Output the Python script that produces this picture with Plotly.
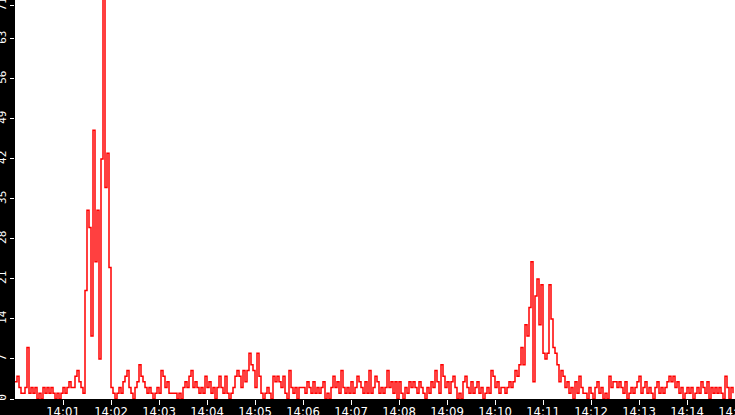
import pandas as pd
import plotly.graph_objects as go

# Samples every 2.5 s from 14:00:00 to 14:15:00
seg_1400 = [3, 4, 2, 1, 1, 2, 9, 1, 2, 1, 2, 0, 1, 0, 2, 1, 2, 1, 2, 1,
            0, 1, 0, 1, 2, 1, 2, 3, 2, 2, 4, 5, 3, 2, 1,
            19, 33, 30, 11, 47, 24, 33, 7, 42, 71, 37, 43, 23, 2,
            1, 0, 1, 2, 1, 3, 4, 5, 2, 1, 0, 2, 3, 6, 4, 3, 2, 1, 2, 1,
            0, 1, 2, 1, 5, 4, 2, 3, 1, 1, 1, 1, 0, 1, 0, 2, 3, 2, 4, 5, 2]
seg_1403 = [3, 2, 1, 2, 1, 4, 2, 3, 1, 2, 0, 2, 4, 2, 1, 4, 1, 0, 1, 2,
            4, 5, 4, 2, 5, 3, 5, 8, 6, 5, 2, 8, 4, 1, 0, 1, 2, 1, 0, 4,
            3, 4, 3, 2, 4, 1, 0, 5, 2, 1, 2, 0, 2, 2, 2, 1, 3, 2, 1, 3,
            1, 2, 1, 2, 3, 0, 1, 0, 2, 4, 2, 3, 1, 5, 2, 1, 2, 1, 3, 1,
            2, 4, 3, 2, 1, 3, 1, 5, 1, 2]
seg_1407 = [4, 3, 1, 2, 1, 2, 5, 2, 3, 1, 3, 0, 3, 1, 0, 2, 1, 3, 2, 3,
            2, 1, 3, 2, 1, 0, 2, 1, 3, 2, 5, 3, 1, 6, 4, 2, 3, 1, 3, 4,
            2, 0, 1, 0, 3, 4, 2, 1, 3, 1, 2, 3, 1, 2, 0, 1, 2, 1, 5, 4,
            2, 3, 1, 2, 2,
            1, 2, 3, 2, 3, 5, 4, 6, 9, 6, 13, 11, 16, 24, 3, 18, 21, 13, 20, 8,
            7, 8, 20, 14, 9]
seg_1411 = [8, 6, 3, 5, 4, 2, 3, 1, 2, 0, 3, 1, 4, 2, 1,
            1, 0, 2, 1, 0, 2, 3, 1, 2, 0, 1, 0, 4, 2, 3, 3, 2, 3, 2, 1,
            3, 0, 1, 2, 1, 2, 3, 4, 1, 2, 3, 1, 2, 1, 0, 2, 3, 1, 2, 1,
            2, 3, 4, 3, 4, 2, 3, 1, 2, 0, 1, 2, 1, 2, 0, 1, 2, 1, 3, 2,
            1, 3, 0, 2, 1, 2, 1, 2, 1, 0, 4, 2, 0, 2, 1]

values = seg_1400 + seg_1403 + seg_1407 + seg_1411
times = pd.date_range("2024-01-01 14:00:00", periods=len(values), freq="2500ms")

y_ticks = [0, 7, 14, 21, 28, 35, 42, 49, 56, 63, 68.8]
y_labels = ["0", "7", "14", "21", "28", "35", "42", "49", "56", "63", "71"]
x_ticks = pd.date_range("2024-01-01 14:01:00", "2024-01-01 14:15:00", freq="1min")

fig = go.Figure()

fig.add_trace(go.Scatter(
    x=times,
    y=values,
    mode="lines",
    line=dict(color="#ff0000", width=1.5, shape="hv"),
    showlegend=False
))

fig.update_layout(
    width=735,
    height=415,
    margin=dict(l=15, r=0, t=0, b=16),
    paper_bgcolor="black",
    plot_bgcolor="white",
    font=dict(family="Liberation Sans Narrow, DejaVu Sans Condensed", color="white", size=12),
    xaxis=dict(
        range=["2024-01-01 14:00:00", "2024-01-01 14:15:00"],
        tickvals=x_ticks,
        tickformat="%H:%M",
        ticks="outside",
        ticklen=5,
        tickcolor="white",
        tickfont=dict(size=13),
        ticklabelstandoff=-5,
        ticklabeloverflow="allow",
        automargin=False,
        showgrid=False,
        zeroline=False
    ),
    yaxis=dict(
        range=[0, 69.8],
        tickvals=y_ticks,
        ticktext=y_labels,
        tickangle=-90,
        ticks="outside",
        ticklen=4,
        tickcolor="white",
        tickfont=dict(family="DejaVu Sans Mono", size=11),
        ticklabeloverflow="allow",
        automargin=False,
        showgrid=False,
        zeroline=False
    )
)

# drop the default page margin so the figure sits at the window corner
fig.write_html("out.html", config={"displayModeBar": False},
               post_script="document.body.style.margin = '0';")
